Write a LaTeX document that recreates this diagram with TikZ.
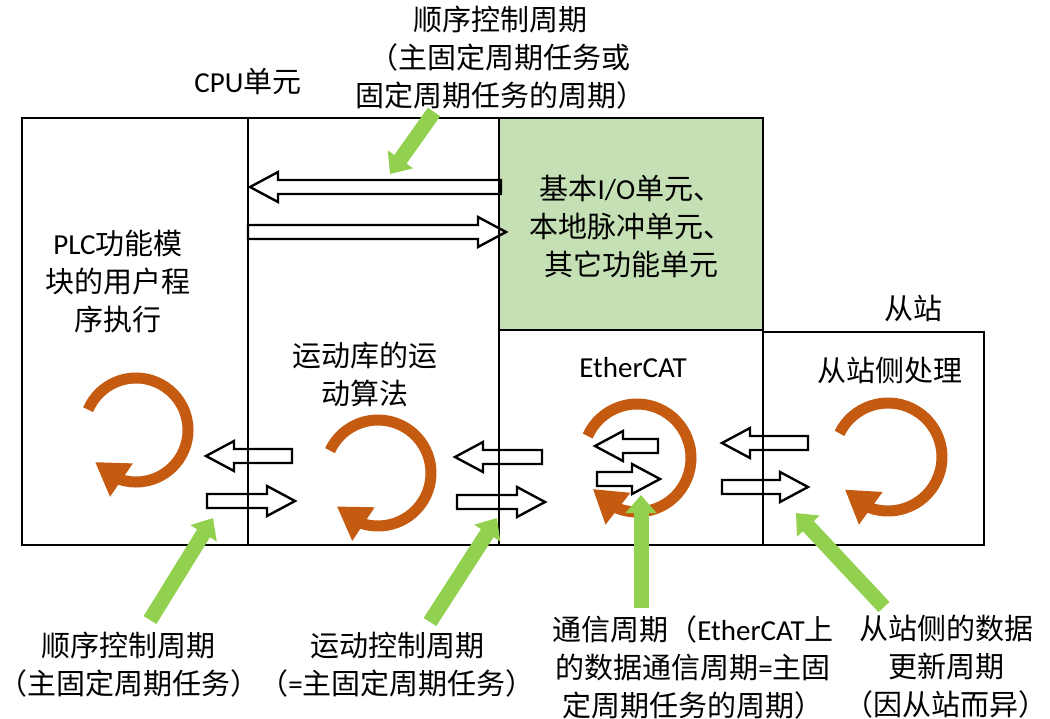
\documentclass[tikz,border=0pt]{standalone}
\usepackage{fontspec}
\setmainfont{Noto Sans CJK SC}
\newfontfamily\latfont{Carlito}
\usetikzlibrary{arrows.meta,bending}
\definecolor{cycorange}{HTML}{C55A11}
\definecolor{boxgreen}{HTML}{C5E0B4}
\definecolor{pointgreen}{HTML}{92D050}

\tikzset{
  frame/.style={draw, line width=2.5pt},
  lbl/.style={align=center, inner sep=0pt, font=\fontsize{29}{38}\selectfont},
  hollowarr/.style={draw, line width=2.4pt},
  cyclearr/.style={draw=cycorange, line width=11pt, -{Triangle[width=38pt,length=32pt]}},
  pointer/.style={draw=pointgreen, line width=15pt, -{Triangle[width=30pt,length=18pt]}},
}

% from x, to x, at y
\newcommand{\hollowarrow}[3]{%
  \pgfmathsetmacro\arrdir{(#2>#1) ? 1 : -1}%
  \draw[hollowarr] (#1,#3-7) -- ({#2-28*\arrdir},#3-7) -- ({#2-28*\arrdir},#3-15) -- (#2,#3)
    -- ({#2-28*\arrdir},#3+15) -- ({#2-28*\arrdir},#3+7) -- (#1,#3+7) -- cycle;}
% centre x, centre y, radius, start, end
\newcommand{\cyclearrow}[5]{%
  \draw[cyclearr] (#1,#2) ++(#4:#3) arc[start angle=#4, end angle=#5, radius=#3];}

\begin{document}
\begin{tikzpicture}[x=1pt, y=-1pt]
\useasboundingbox (0,0) rectangle (1050,718);
\fill[boxgreen] (499,118) rectangle (763,330);
\draw[frame] (22,118) rectangle (763,545);
\draw[frame] (248,118) -- (248,545) (499,118) -- (499,545) (499,330) -- (763,330);
\draw[frame] (763,332) -- (984,332) -- (984,545) -- (763,545);

\node[lbl] (seqtop) at (500,58) {顺序控制周期\\（主固定周期任务或\\固定周期任务的周期）};
\node[lbl] (cpu) at (248,82) {{\latfont CPU}单元};
\node[lbl] (slave) at (913,308) {从站};
\node[lbl] (iounit) at (631,226) {基本{\latfont I/O}单元、\\本地脉冲单元、\\其它功能单元};
\node[lbl] (plc) at (118,281) {{\latfont PLC}功能模\\块的用户程\\序执行};
\node[lbl] (motion) at (365,374) {运动库的运\\动算法};
\node[lbl] (ecat) at (633,368) {\latfont EtherCAT};
\node[lbl] (slaveproc) at (890,370) {从站侧处理};
\node[lbl] (seqcyc) at (129,665) {顺序控制周期\\（主固定周期任务）};
\node[lbl] (motcyc) at (397,665) {运动控制周期\\（{\latfont =}主固定周期任务）};
\node[lbl] (comcyc) at (693,667) {通信周期（{\latfont EtherCAT}上\\的数据通信周期{\latfont =}主固\\定周期任务的周期）};
\node[lbl] (slvcyc) at (946,667) {从站侧的数据\\更新周期\\（因从站而异）};

\hollowarrow{501}{250}{187}
\hollowarrow{248}{506}{232}
\hollowarrow{292}{206}{456}
\hollowarrow{207}{295}{501}
\hollowarrow{542}{455}{457}
\hollowarrow{457}{545}{502}
\hollowarrow{658}{595}{446}
\hollowarrow{597}{660}{479}
\hollowarrow{808}{722}{443}
\hollowarrow{722}{808}{487}

\cyclearrow{136}{430}{52}{203}{502}
\cyclearrow{378}{473}{53}{205}{501}
\cyclearrow{637}{458}{54}{204}{505}
\cyclearrow{888}{457}{54}{206}{503}

\coordinate (seqtop tail) at (434,112);
\coordinate (seqtop tip) at (390,174);
\coordinate (seqcyc tail) at (150,620);
\coordinate (seqcyc tip) at (213,518);
\coordinate (motcyc tail) at (430,622);
\coordinate (motcyc tip) at (497,518);
\coordinate (comcyc tail) at (641,608);
\coordinate (comcyc tip) at (641,495);
\coordinate (slvcyc tail) at (884,607);
\coordinate (slvcyc tip) at (796,513);
\foreach \p in {seqtop,seqcyc,motcyc,comcyc,slvcyc}
  \draw[pointer] (\p\space tail) -- (\p\space tip);
\end{tikzpicture}
\end{document}
